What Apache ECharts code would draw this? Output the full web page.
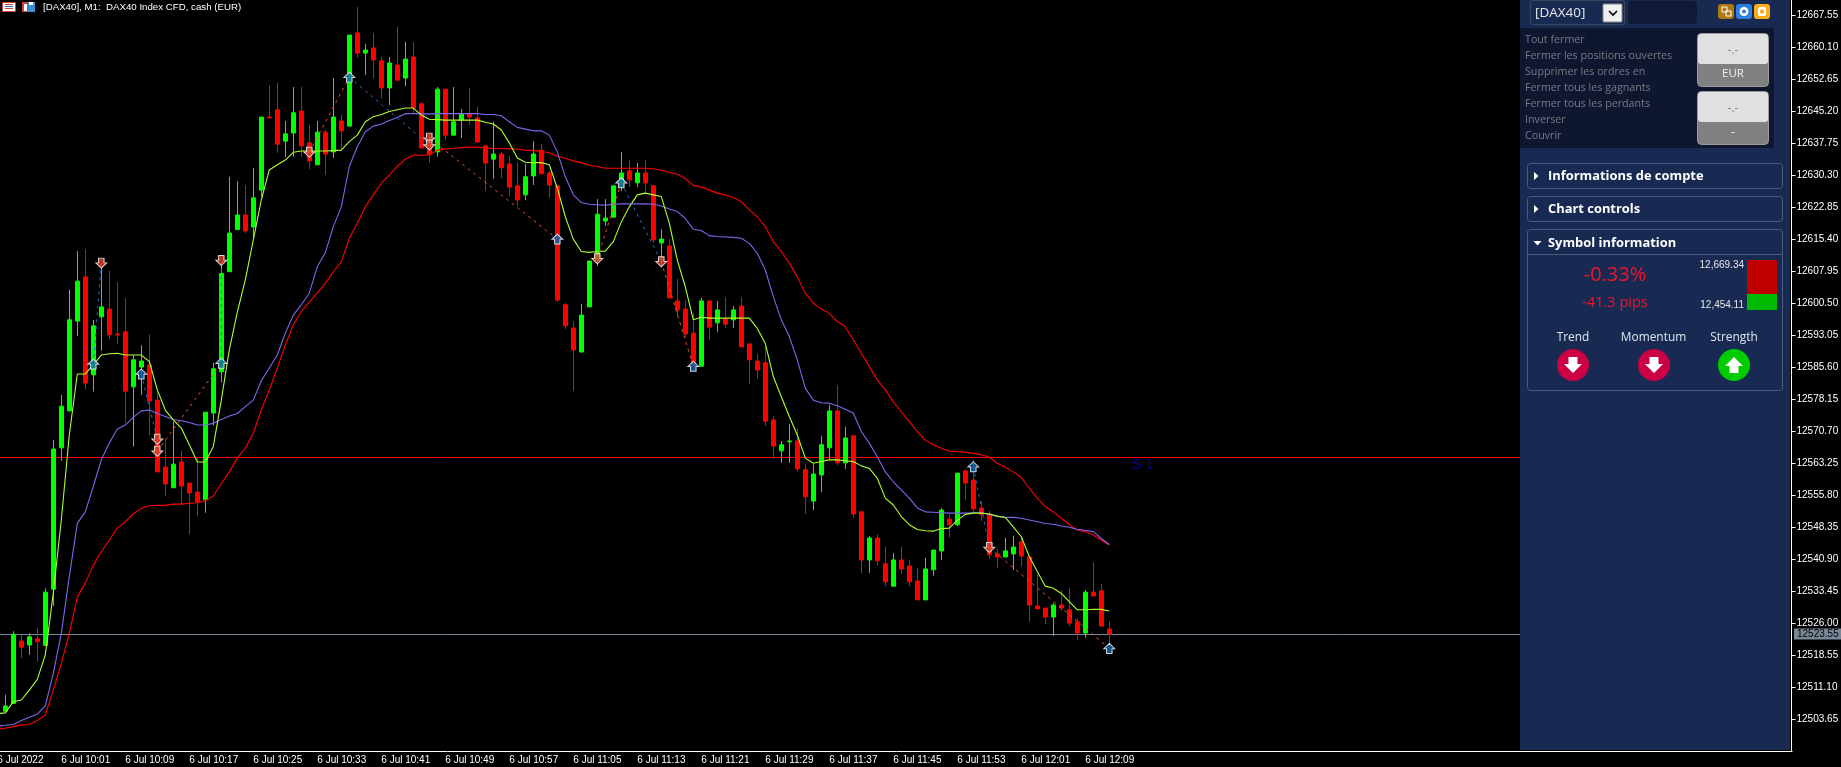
<!DOCTYPE html>
<html><head><meta charset="utf-8"><style>html,body{margin:0;padding:0;background:#000;overflow:hidden}#c{width:1841px;height:767px}</style>
<script src="https://cdn.jsdelivr.net/npm/echarts@6/dist/echarts.min.js"></script></head><body><div id="c"></div>
<script>
const yTickLabels=['12503.65','12511.10','12518.55','12526.00','12533.45','12540.90','12548.35','12555.80','12563.25','12570.70','12578.15','12585.60','12593.05','12600.50','12607.95','12615.40','12622.85','12630.30','12637.75','12645.20','12652.65','12660.10','12667.55'];
const opens=[null,12505.6,12507.4,12521.9,12521.0,12522.4,12520.9,12534.0,12566.9,12575.5,12596.4,12606.7,12583.9,12597.4,12599.2,12593.4,12593.9,12581.1,12585.7,12586.2,12578.0,12562.4,12557.6,12563.6,12558.7,12556.6,12554.8,12575.0,12584.6,12607.9,12617.7,12621.1,12618.3,12626.9,12643.9,12645.6,12638.3,12640.2,12645.3,12637.9,12632.8,12640.4,12635.8,12643.0,12641.8,12663.5,12658.8,12660.0,12657.0,12650.7,12656.0,12653.0,12657.9,12647.0,12637.4,12635.8,12650.4,12639.7,12643.2,12644.6,12643.7,12637.2,12634.1,12635.3,12633.0,12627.9,12625.8,12630.2,12636.2,12630.9,12627.9,12600.2,12594.8,12589.2,12599.7,12610.6,12619.7,12620.6,12627.6,12631.4,12628.6,12630.9,12627.9,12614.6,12613.9,12601.1,12599.2,12593.6,12585.9,12601.1,12596.0,12596.9,12596.7,12599.9,12591.1,12587.1,12586.7,12573.4,12566.2,12568.3,12568.5,12561.8,12554.5,12560.6,12566.9,12575.5,12563.4,12569.7,12552.0,12540.8,12545.9,12539.9,12534.7,12540.8,12539.4,12535.9,12531.5,12538.5,12542.9,12550.3,12549.0,12561.5,12559.4,12552.9,12551.5,12542.2,12541.5,12542.2,12545.0,12541.5,12530.1,12529.6,12527.5,12530.3,12529.2,12526.4,12523.8,12533.3,12533.6,12524.7];
const closes=[null,12506.8,12523.5,12520.5,12522.9,12521.8,12533.3,12566.6,12576.6,12596.7,12605.7,12582.0,12595.3,12599.7,12593.2,12593.2,12580.1,12587.4,12587.1,12577.8,12561.3,12558.5,12563.1,12558.0,12556.4,12554.3,12575.2,12585.3,12607.5,12616.9,12621.1,12617.4,12625.1,12643.9,12643.7,12637.6,12640.0,12644.9,12637.2,12633.7,12640.4,12635.3,12643.9,12640.7,12663.0,12658.8,12659.5,12657.2,12650.7,12656.5,12652.5,12657.4,12646.0,12636.7,12635.3,12650.4,12639.7,12642.8,12644.6,12643.9,12638.1,12633.2,12635.3,12632.1,12627.6,12624.6,12630.0,12635.3,12630.7,12628.1,12601.3,12595.3,12589.7,12597.8,12610.4,12621.3,12620.4,12627.9,12630.9,12629.3,12630.9,12628.6,12615.3,12615.5,12601.8,12599.0,12593.4,12585.9,12601.1,12595.0,12599.0,12595.7,12599.0,12590.4,12587.4,12585.0,12573.1,12567.3,12567.6,12568.5,12562.0,12555.5,12560.8,12567.6,12575.5,12563.4,12569.2,12551.5,12540.8,12545.9,12540.6,12535.7,12540.8,12538.7,12535.7,12531.5,12538.7,12543.1,12552.4,12549.0,12561.0,12558.7,12552.7,12551.3,12542.0,12541.5,12542.9,12543.8,12541.7,12530.3,12529.4,12527.5,12530.3,12529.6,12526.1,12523.8,12533.3,12532.4,12525.4,12523.55];
const lows=[null,12505.6,12507.4,12518.0,12518.7,12517.1,12520.9,12530.1,12563.9,12575.5,12592.9,12580.5,12580.0,12589.5,12592.2,12591.1,12572.7,12567.2,12579.2,12569.9,12561.3,12555.8,12557.6,12553.8,12546.8,12550.9,12551.8,12572.1,12582.1,12607.9,12617.7,12616.9,12615.8,12625.4,12643.7,12635.6,12634.6,12634.7,12634.7,12631.8,12632.8,12630.4,12634.4,12636.2,12641.8,12657.7,12653.7,12652.8,12648.3,12646.7,12652.5,12651.1,12644.9,12636.7,12633.3,12634.7,12638.6,12639.7,12639.0,12642.1,12638.1,12626.7,12629.5,12629.7,12625.5,12623.2,12624.6,12628.1,12630.7,12625.1,12600.9,12594.6,12580.1,12589.2,12599.7,12609.3,12618.6,12620.6,12626.7,12627.6,12627.6,12626.2,12614.6,12609.0,12601.8,12597.4,12592.7,12585.9,12585.9,12592.0,12593.9,12594.8,12594.8,12590.4,12581.8,12583.0,12572.0,12564.3,12563.4,12563.4,12561.5,12551.5,12552.4,12556.6,12564.3,12562.9,12562.0,12550.6,12537.8,12537.8,12539.6,12534.7,12534.7,12537.5,12534.7,12531.5,12531.5,12537.1,12540.8,12546.1,12548.7,12554.8,12551.7,12549.9,12541.0,12538.9,12541.5,12538.5,12539.2,12526.4,12529.4,12525.9,12523.1,12528.9,12525.4,12522.2,12522.7,12532.4,12525.4,12521.0];
const highs=[null,12509.4,12524.2,12523.3,12523.7,12525.0,12534.2,12568.7,12579.2,12603.7,12612.7,12613.2,12596.7,12608.8,12608.1,12605.5,12601.8,12588.5,12590.8,12593.2,12579.7,12568.7,12573.0,12566.2,12558.7,12564.8,12575.2,12586.7,12610.2,12630.0,12629.0,12628.1,12632.1,12643.9,12651.4,12651.8,12643.0,12650.9,12650.9,12642.1,12643.0,12640.9,12653.0,12644.4,12663.0,12669.5,12660.9,12663.5,12657.9,12657.9,12664.9,12661.4,12661.4,12647.4,12639.7,12650.9,12650.4,12650.9,12645.8,12650.7,12646.2,12637.2,12642.8,12635.8,12634.8,12633.4,12633.0,12638.3,12637.6,12631.4,12627.9,12600.6,12596.4,12600.4,12610.4,12624.8,12624.8,12627.9,12635.8,12633.9,12633.2,12633.9,12627.9,12617.8,12615.5,12606.2,12601.3,12598.3,12601.8,12601.1,12601.1,12602.0,12599.9,12602.0,12591.1,12588.8,12590.4,12574.3,12568.5,12572.5,12571.5,12563.1,12563.1,12569.7,12576.9,12581.5,12571.8,12569.7,12552.0,12546.4,12546.8,12543.8,12542.4,12543.8,12540.8,12538.9,12541.3,12543.1,12552.9,12551.3,12561.0,12562.0,12564.1,12554.5,12552.2,12543.4,12545.9,12546.4,12545.9,12541.5,12537.5,12529.6,12530.8,12533.8,12534.3,12527.3,12533.8,12540.3,12535.2,12526.6];
const fastMA=[12505.0,12505.2,12507.8,12508.2,12510.5,12513.0,12518.7,12533.1,12550.1,12569.9,12584.1,12584.1,12586.2,12588.5,12588.8,12588.9,12588.5,12588.5,12588.5,12587.0,12580.4,12575.7,12573.4,12571.5,12567.6,12563.6,12563.6,12567.2,12578.0,12589.7,12598.5,12606.0,12615.3,12624.6,12631.6,12632.8,12633.9,12635.7,12636.0,12636.0,12636.0,12636.0,12636.1,12636.2,12638.2,12639.7,12642.8,12644.0,12644.5,12645.2,12645.6,12646.0,12646.0,12644.4,12643.4,12643.3,12643.2,12643.2,12643.2,12643.2,12643.2,12642.7,12642.3,12640.9,12637.9,12634.4,12633.4,12633.3,12633.3,12632.8,12627.4,12620.7,12615.5,12612.6,12612.4,12612.6,12612.7,12614.9,12619.5,12623.0,12625.8,12626.2,12625.8,12625.4,12619.2,12610.6,12604.4,12596.7,12597.3,12597.1,12597.1,12597.1,12597.1,12597.1,12597.1,12594.7,12591.2,12583.5,12578.8,12574.2,12569.9,12564.5,12563.3,12563.7,12564.1,12564.1,12563.9,12563.7,12562.7,12562.1,12559.8,12555.2,12553.6,12550.9,12549.0,12547.9,12547.6,12547.5,12548.1,12548.2,12550.0,12551.4,12551.7,12551.7,12551.5,12551.0,12550.7,12548.5,12546.2,12541.6,12538.1,12534.7,12534.2,12533.0,12531.1,12529.2,12529.2,12529.3,12529.3,12528.9];
const midMA=[12502.2,12502.3,12502.5,12503.4,12504.2,12504.9,12506.8,12514.4,12523.7,12536.9,12549.3,12552.0,12557.9,12564.1,12568.0,12571.3,12572.2,12574.0,12575.5,12575.7,12574.9,12574.2,12573.5,12573.2,12572.8,12572.2,12572.2,12572.6,12573.5,12574.3,12574.9,12576.5,12578.0,12582.5,12585.5,12588.5,12593.6,12597.8,12600.2,12602.9,12609.1,12612.3,12618.4,12623.0,12632.4,12637.0,12640.5,12641.8,12642.3,12643.1,12643.8,12644.7,12644.7,12644.7,12644.6,12644.7,12644.7,12644.7,12644.7,12644.7,12644.7,12644.5,12644.5,12644.2,12642.8,12641.5,12641.1,12640.7,12640.7,12639.7,12635.8,12630.0,12625.8,12624.0,12623.6,12623.5,12623.4,12623.6,12623.7,12623.7,12623.7,12623.7,12623.6,12623.2,12622.5,12621.9,12620.3,12617.8,12617.5,12616.3,12616.1,12616.0,12615.9,12615.7,12614.5,12612.2,12608.3,12602.1,12596.7,12592.8,12587.4,12580.8,12578.0,12577.4,12577.3,12576.7,12575.9,12575.0,12570.7,12568.0,12564.8,12561.3,12559.0,12557.1,12555.2,12552.9,12552.0,12551.9,12551.8,12551.7,12551.7,12551.7,12551.8,12551.8,12551.4,12550.9,12550.7,12550.7,12550.5,12550.1,12549.7,12549.3,12549.1,12548.7,12548.4,12547.9,12547.7,12547.4,12545.8,12544.4];
const slowMA=[12501.4,12501.6,12502.0,12502.4,12502.5,12503.4,12504.7,12510.5,12516.7,12523.7,12532.2,12535.4,12539.6,12542.7,12545.4,12548.2,12549.7,12551.5,12552.8,12553.4,12553.5,12553.5,12553.8,12553.8,12554.0,12554.1,12554.6,12555.7,12558.6,12561.3,12564.5,12566.8,12570.3,12575.7,12580.4,12585.5,12590.8,12595.5,12598.6,12600.9,12603.0,12605.2,12607.9,12610.2,12615.7,12619.2,12623.0,12625.8,12628.5,12630.4,12632.4,12634.1,12635.0,12635.0,12635.1,12636.2,12636.5,12636.6,12636.8,12636.9,12636.9,12636.7,12636.6,12636.6,12636.5,12636.4,12636.2,12636.1,12635.9,12635.6,12634.8,12634.3,12633.7,12633.3,12632.7,12632.4,12632.0,12632.0,12632.0,12632.0,12632.0,12632.0,12631.8,12631.6,12631.0,12630.6,12629.6,12628.0,12627.6,12626.9,12626.2,12625.8,12625.2,12624.2,12622.3,12620.7,12618.4,12614.9,12612.6,12609.9,12606.7,12602.9,12600.6,12599.2,12598.2,12596.3,12595.1,12592.0,12588.9,12585.8,12582.7,12580.4,12577.6,12575.3,12573.0,12570.7,12568.7,12567.6,12566.8,12566.1,12566.0,12565.9,12565.6,12565.3,12564.7,12563.3,12562.4,12561.3,12560.0,12557.5,12555.2,12553.2,12552.0,12550.5,12549.0,12547.8,12547.4,12546.6,12545.4,12544.3];
const upArrows=[['10:05',12586.4],['10:11',12584.1],['10:21',12586.6],['10:37',12653.2],['11:03',12615.5],['11:11',12628.6],['11:20',12585.9],['11:55',12562.5],['12:12',12520.2]];
const downArrows=[['10:06',12609.9],['10:13',12568.9],['10:13',12566.1],['10:21',12610.5],['10:32',12635.7],['10:47',12639.0],['10:47',12637.4],['11:08',12610.9],['11:16',12610.2],['11:57',12543.7]];
const blueLegs=[[['10:05',12586.4],['10:06',12609.9]],[['10:11',12584.1],['10:13',12568.9]],[['10:21',12586.6],['10:21',12610.5]],[['10:37',12653.2],['10:47',12637.4]],[['11:11',12628.6],['11:16',12610.2]],[['11:55',12562.5],['11:57',12543.7]]];
const redLegs=[[['10:13',12566.1],['10:21',12586.6]],[['10:32',12635.7],['10:37',12653.2]],[['10:47',12639.0],['11:03',12615.5]],[['11:08',12610.9],['11:11',12628.6]],[['11:16',12610.2],['11:20',12585.9]],[['11:57',12543.7],['12:12',12520.2]]];
const lastPrice=12523.55, supportLevel=12564.69, supportLabel='S 1', supportAt='12:15';
const title='[DAX40], M1:  DAX40 Index CFD, cash (EUR)';

const pad=n=>String(n).padStart(2,'0');
const categories=[];for(let k=0;k<225;k++){const m=9*60+53+k;categories.push(pad(Math.floor(m/60))+':'+pad(m%60));}
const lastIdx=opens.length-1;
const candleData=opens.map((o,k)=>o===null?'-':[o,closes[k],lows[k],highs[k]]);
const axisFont='"Liberation Sans",sans-serif';
const UP='path://M5 0L10 5L7.5 5L7.5 9.5L2.5 9.5L2.5 5L0 5Z', DN='path://M2.5 0L7.5 0L7.5 4.5L10 4.5L5 9.5L0 4.5L2.5 4.5Z';
const legSeries=(legs,color)=>legs.map(d=>({type:'line',data:d,showSymbol:false,silent:true,z:5,animation:false,lineStyle:{color,width:1,type:[3,4]}}));
const maSeries=(data,color,z)=>({type:'line',data,showSymbol:false,silent:true,z,animation:false,lineStyle:{color,width:1.1}});

const PANEL='#182a52',OF='"Open Sans",sans-serif',TX='#777b85';
const R=(x,y,w,h,fill,r,stroke)=>({type:'rect',shape:{x,y,width:w,height:h,r:r||0},style:{fill,stroke:stroke||null,lineWidth:stroke?1:0}});
const T=(x,y,text,fill,font,a)=>({type:'text',style:{x,y,text,fill,font,textAlign:a||'left',textVerticalAlign:'middle'}});
const P=(pts,fill)=>({type:'polygon',shape:{points:pts},style:{fill}});
const arrowDn=(c,y)=>P([[c-4.5,y-8],[c+4.5,y-8],[c+4.5,y-1],[c+9,y-1],[c,y+8],[c-9,y-1],[c-4.5,y-1]],'#fff');
const arrowUp=(c,y)=>P([[c-4.5,y+8],[c+4.5,y+8],[c+4.5,y+1],[c+9,y+1],[c,y-8],[c-9,y+1],[c-4.5,y+1]],'#fff');
const CIRC=(c,y,fill)=>({type:'circle',shape:{cx:c,cy:y,r:16},style:{fill}});
const menu=['Tout fermer','Fermer les positions ouvertes','Supprimer les ordres en','Fermer tous les gagnants','Fermer tous les perdants','Inverser','Couvrir'];
const els=[
 R(2.5,2.5,13,9,'#fff',0,'#d0432f'),R(5,4,8,1,'#d0432f'),R(5,6,8,1,'#2a6fb5'),R(5,8,8,1,'#d0432f'),
 R(22,2,6,10,'#d0432f'),R(28,2,7,10,'#3b8fd6'),R(24,4,3,7,'#fff'),R(29,2,4,3,'#fff'),
 T(43,7.5,title,'#fff','9.7px "Liberation Sans"'),
 R(1520,0,270,750,PANEL),
 R(1530.5,0.5,94,24,PANEL,2,'#3d4660'),T(1535,13,'[DAX40]','#e8e8e8','13.5px '+OF),
 R(1603,4,19,18,'#f0f0f0',1,'#888'),{type:'polyline',shape:{points:[[1609,11],[1613,15],[1617,11]]},style:{stroke:'#000',lineWidth:1.6,fill:null}},
 R(1628,1,69,23,'#101a38',3),
 R(1718,4,16,15,'#b07a10',3),R(1722,7,5,5,null,0,'#fff'),R(1726,11,5,5,null,0,'#fff'),
 R(1736,4,16,15,'#2f7fe0',3),{type:'ring',shape:{cx:1744,cy:11.5,r:4.5,r0:2},style:{fill:'#fff'}},
 R(1754,4,16,15,'#fbae17',3),R(1758,7,8,9,'#fff',2),R(1760,9.5,4,4,'#fbae17',1),
 R(1520,28,254,120,'#0e1630'),
 ...menu.map((m,k)=>T(1525,40+16*k,m,TX,'10.7px '+OF)),
 R(1697.5,33.5,71,53,'#808080',4,'#9a9a9a'),R(1698,34,70,30,'#e0e0e0',3),
 T(1733,51,'-.-','#888','12px '+OF,'center'),T(1733,74,'EUR','#f0f0f0','11.5px '+OF,'center'),
 R(1697.5,91.5,71,53,'#808080',4,'#9a9a9a'),R(1698,92,70,30,'#e0e0e0',3),
 T(1733,109,'-.-','#888','12px '+OF,'center'),T(1733,133,'-','#f0f0f0','12px '+OF,'center'),
 R(1527.5,163.5,255,25,PANEL,3,'#4a5a80'),P([[1534,172],[1534,180],[1538.5,176]],'#fff'),T(1548,176,'Informations de compte','#fff','bold 12.9px '+OF),
 R(1527.5,196.5,255,25,PANEL,3,'#4a5a80'),P([[1534,205],[1534,213],[1538.5,209]],'#fff'),T(1548,209,'Chart controls','#fff','bold 12.9px '+OF),
 R(1527.5,229.5,255,161,PANEL,3,'#4a5a80'),{type:'line',shape:{x1:1528,y1:254.5,x2:1782,y2:254.5},style:{stroke:'#4a5a80',lineWidth:1}},
 P([[1533.5,241],[1541.5,241],[1537.5,245.5]],'#fff'),T(1548,243.5,'Symbol information','#fff','bold 12.9px '+OF),
 T(1615,275,'-0.33%','#f0142d','20px '+OF,'center'),T(1615,303,'-41.3 pips','#f0142d','14.5px '+OF,'center'),
 T(1744,265,'12,669.34','#e8e8e8','10px "Liberation Sans"','right'),T(1744,305,'12,454.11','#e8e8e8','10px "Liberation Sans"','right'),
 R(1747,260,30,34,'#c00000'),R(1747,294,30,16,'#00bb00'),
 T(1573,338,'Trend','#dfe6f0','11.9px '+OF,'center'),T(1653.5,338,'Momentum','#dfe6f0','11.9px '+OF,'center'),T(1734,338,'Strength','#dfe6f0','11.9px '+OF,'center'),
 CIRC(1573,365,'#cc0044'),arrowDn(1573,365),CIRC(1654,365,'#cc0044'),arrowDn(1654,365),CIRC(1734,365,'#00cc00'),arrowUp(1734,365),
 R(1792.5,749,2,4,'#000')
].map(e=>({...e,z:100,silent:true}));

const chart=echarts.init(document.getElementById('c'),null,{renderer:'canvas',width:1841,height:767});
chart.setOption({
 animation:false,backgroundColor:'#000',
 grid:{left:-6.7,top:0,width:1800,height:751,outerBoundsMode:'none',containLabel:false},
 xAxis:{type:'category',data:categories,boundaryGap:true,
  axisLine:{lineStyle:{color:'#fff',width:1}},
  axisTick:{alignWithLabel:true,length:5,lineStyle:{color:'#fff'},interval:k=>k%8===0&&k<=lastIdx},
  axisLabel:{color:'#fff',fontFamily:axisFont,fontSize:10,align:'left',margin:4,
   interval:k=>k%8===0&&k<=lastIdx,formatter:(v,k)=>k===0?'6 Jul 2022':'6 Jul '+v},
  splitLine:{show:false}},
 yAxis:{type:'value',position:'right',offset:-1.8,min:12496.32,max:12671.16,scale:true,
  axisLine:{show:true,lineStyle:{color:'#fff',width:1}},
  axisTick:{show:true,length:4,lineStyle:{color:'#fff'},customValues:yTickLabels.map(Number)},
  axisLabel:{color:'#fff',fontFamily:axisFont,fontSize:10,margin:5,customValues:yTickLabels.map(Number),formatter:v=>v.toFixed(2)},
  splitLine:{show:false}},
 series:[
  {type:'candlestick',data:candleData,barWidth:4,silent:true,z:2,
   itemStyle:{color:'#00ff00',color0:'#ff0000',borderColor:'#00ff00',borderColor0:'#ff0000',borderWidth:1},
   markLine:{silent:true,symbol:'none',animation:false,z:1,data:[
    [{xAxis:categories[0],yAxis:supportLevel,lineStyle:{color:'#ff0000',width:1,type:'solid'},label:{show:false}},{xAxis:categories[224],yAxis:supportLevel}],
    [{xAxis:categories[0],yAxis:lastPrice,lineStyle:{color:'#778899',width:1,type:'solid'},
      label:{show:true,position:'end',distance:4.7,formatter:String(lastPrice),color:'#000',backgroundColor:'#778899',padding:[1,3,0,3],fontFamily:axisFont,fontSize:10}},{xAxis:categories[224],yAxis:lastPrice}]
   ]}},
  maSeries(slowMA,'#ff0000',3),maSeries(midMA,'#7b68ee',3),maSeries(fastMA,'#adff2f',4),
  ...legSeries(blueLegs,'#1a6fc4'),...legSeries(redLegs,'#e8502a'),
  {type:'scatter',data:upArrows,symbol:UP,symbolSize:[11,10],silent:true,z:6,itemStyle:{color:'#0d66ad',borderColor:'#fff',borderWidth:1}},
  {type:'scatter',data:downArrows,symbol:DN,symbolSize:[11,10],silent:true,z:6,itemStyle:{color:'#e0452b',borderColor:'#fff',borderWidth:1}},
  {type:'scatter',data:[[supportAt,supportLevel]],symbolSize:0,silent:true,z:6,
   label:{show:true,position:'right',distance:-1,offset:[0,8],formatter:supportLabel,color:'#0000cd',fontFamily:'"Liberation Sans"',fontSize:14}}
 ],
 graphic:{elements:els}
});
</script></body></html>
